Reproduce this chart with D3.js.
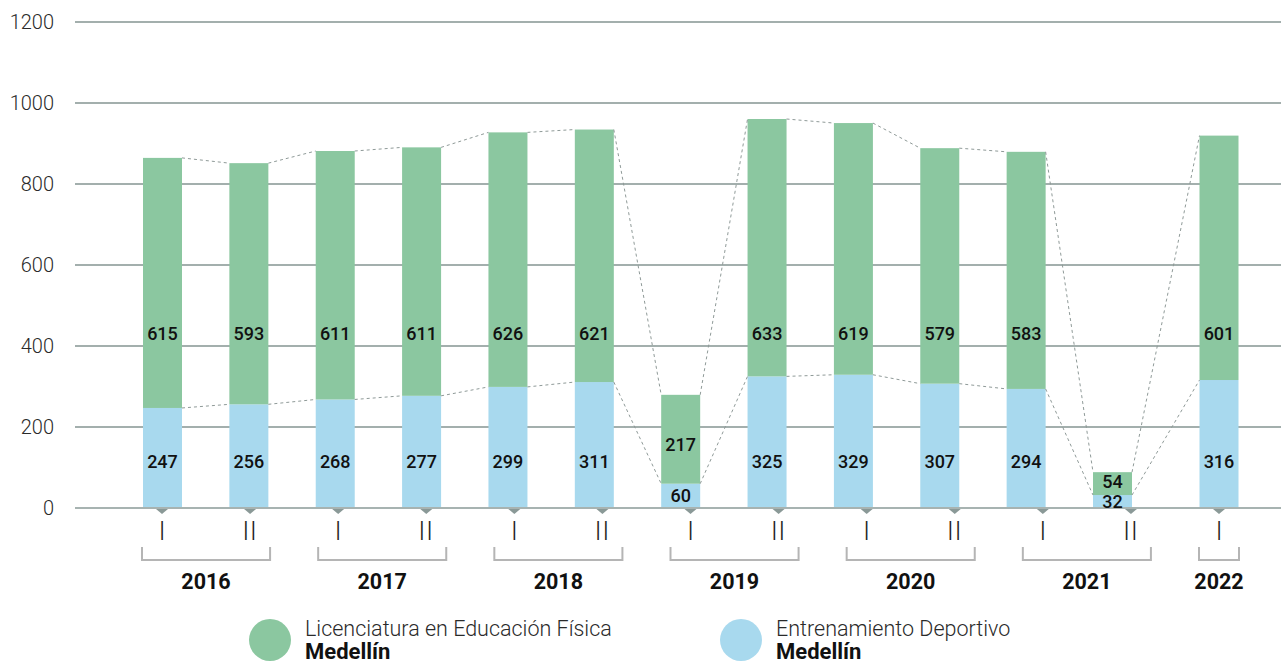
<!DOCTYPE html>
<html>
<head>
<meta charset="utf-8">
<script src="https://cdn.jsdelivr.net/npm/d3@7"></script>
<style>
  html, body { margin: 0; padding: 0; background: #fff; }
  svg { display: block; font-family: Roboto, "Noto Sans", sans-serif; }
</style>
</head>
<body>
<svg id="chart" width="1281" height="664"></svg>
<script>
// ---- data ----
const categories = ["2016-I","2016-II","2017-I","2017-II","2018-I","2018-II","2019-I","2019-II","2020-I","2020-II","2021-I","2021-II","2022-I"];
const periodLabels = ["I","II","I","II","I","II","I","II","I","II","I","II","I"];
const yearLabels = ["2016","2017","2018","2019","2020","2021","2022"];
const licenciatura = [615,593,611,611,626,621,217,633,619,579,583,54,601];
const entrenamiento = [247,256,268,277,299,311,60,325,329,307,294,32,316];
const yTicks = [0,200,400,600,800,1000,1200];
const seriesNames = ["Licenciatura en Educación Física","Entrenamiento Deportivo"];
const seriesSub = ["Medellín","Medellín"];

// ---- styles ----
const GREEN = "#8bc7a0", BLUE = "#a8d9ee";
const svg = d3.select("#chart");

const y = d3.scaleLinear().domain([0,1200]).range([508,22]);
const tickX = d3.scaleLinear().domain([0, categories.length-1]).range([162, 1219]);
const barScale = d3.scaleLinear().domain([0, 11]).range([162.5, 1112.5]);
const barX = i => i < 12 ? barScale(i) : tickX(i);
const bw = 39;

// gridlines
svg.append("g").selectAll("line").data(yTicks.filter(d => d > 0)).join("line")
  .attr("x1", 75).attr("x2", 1281)
  .attr("y1", d => y(d)).attr("y2", d => y(d))
  .attr("stroke", "#849592").attr("stroke-width", 1.3);

// y labels
svg.append("g").selectAll("text").data(yTicks).join("text")
  .attr("x", 54).attr("y", d => y(d)).attr("dy", "0.36em")
  .attr("text-anchor", "end")
  .attr("font-size", 20).attr("font-weight", 300).attr("fill", "#2a2a2a")
  .text(d => d);

const data = categories.map((c, i) => ({c, i, a: entrenamiento[i], b: licenciatura[i]}));

// bars
const g = svg.append("g");
g.selectAll("rect.blue").data(data).join("rect").attr("class","blue")
  .attr("x", d => barX(d.i) - bw/2).attr("width", bw)
  .attr("y", d => y(d.a)).attr("height", d => y(0) - y(d.a))
  .attr("fill", BLUE);
g.selectAll("rect.green").data(data).join("rect").attr("class","green")
  .attr("x", d => barX(d.i) - bw/2).attr("width", bw)
  .attr("y", d => y(d.a + d.b) - 1).attr("height", d => y(d.a) - y(d.a + d.b) + 1)
  .attr("fill", GREEN);

// dashed connectors
const conn = svg.append("g").attr("stroke", "#8f9a98").attr("stroke-width", 1).attr("stroke-dasharray", "3,3").attr("fill", "none");
data.slice(0, -1).forEach((d, k) => {
  const n = data[k+1];
  conn.append("line")
    .attr("x1", barX(d.i) + bw/2).attr("y1", y(d.a + d.b) - 1)
    .attr("x2", barX(n.i) - bw/2).attr("y2", y(n.a + n.b) - 1);
  conn.append("line")
    .attr("x1", barX(d.i) + bw/2).attr("y1", y(d.a))
    .attr("x2", barX(n.i) - bw/2).attr("y2", y(n.a));
});

// baseline
svg.append("line").attr("x1", 75).attr("x2", 1281).attr("y1", y(0)).attr("y2", y(0))
  .attr("stroke", "#a7b3b1").attr("stroke-width", 2);

// value labels
const lab = svg.append("g").attr("font-size", 18).attr("font-weight", 500).attr("fill", "#111").attr("text-anchor", "middle");
lab.selectAll("text.b").data(data).join("text").attr("class","b")
  .attr("x", d => barX(d.i))
  .attr("y", d => Math.max(y(115), (y(0) + y(d.a)) / 2))
  .attr("dy", "0.36em").text(d => d.a);
lab.selectAll("text.g").data(data).join("text").attr("class","g")
  .attr("x", d => barX(d.i))
  .attr("y", d => Math.min(Math.max(y(432), (y(d.a) + y(d.a + d.b)) / 2 + 5), y(d.a) - 14))
  .attr("dy", "0.36em").text(d => d.b);

// tick triangles
svg.append("g").selectAll("path").data(categories).join("path")
  .attr("d", (d, i) => `M${tickX(i)-6},${y(0)+1} L${tickX(i)+6},${y(0)+1} L${tickX(i)},${y(0)+6} Z`)
  .attr("fill", "#8a9997");

// period labels
svg.append("g").selectAll("text").data(periodLabels).join("text")
  .attr("x", (d, i) => tickX(i)).attr("y", 540)
  .attr("text-anchor", "middle").attr("font-size", 25).attr("font-weight", 300)
  .attr("letter-spacing", d => d.length > 1 ? 1 : 0)
  .attr("fill", "#222").text(d => d);

// year brackets
const groups = yearLabels.map(yr => {
  const idx = categories.map((c, i) => c.startsWith(yr) ? i : -1).filter(i => i >= 0);
  return {yr, x0: tickX(d3.min(idx)) - 20, x1: tickX(d3.max(idx)) + 20};
});
const br = svg.append("g");
br.selectAll("path").data(groups).join("path")
  .attr("d", d => `M${d.x0},547 L${d.x0},560 L${d.x1},560 L${d.x1},547`)
  .attr("fill", "none").attr("stroke", "#b5b5b5").attr("stroke-width", 2);
br.selectAll("text").data(groups).join("text")
  .attr("x", d => (d.x0 + d.x1) / 2).attr("y", 589)
  .attr("text-anchor", "middle").attr("font-size", 21.5).attr("font-weight", 700).attr("fill", "#111")
  .text(d => d.yr);

// legend
const leg = svg.append("g");
const legX = [270, 741];
const legC = [GREEN, BLUE];
seriesNames.forEach((s, i) => {
  leg.append("circle").attr("cx", legX[i]).attr("cy", 640).attr("r", 21).attr("fill", legC[i]);
  leg.append("text").attr("x", legX[i] + 35).attr("y", 636).attr("font-size", 21.5).attr("font-weight", 300).attr("fill", "#2a2a2a").text(s);
  leg.append("text").attr("x", legX[i] + 35).attr("y", 659).attr("font-size", 22).attr("font-weight", 700).attr("fill", "#111").text(seriesSub[i]);
});
</script>
</body>
</html>
